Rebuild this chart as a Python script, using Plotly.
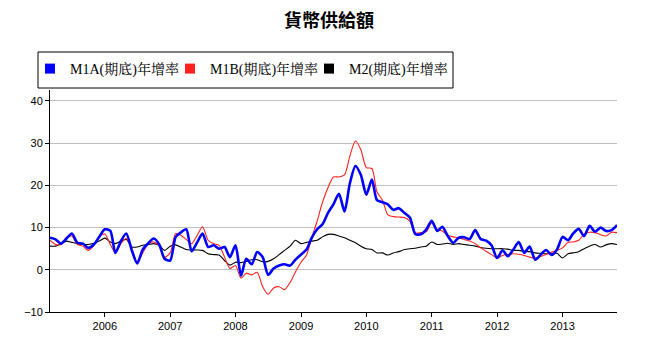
import pandas as pd
import plotly.graph_objects as go

months = pd.date_range("2005-03-01", periods=105, freq="MS")

m1a = [7.6,7.2,6.2,7.4,8.6,6.4,6.2,5.2,6.0,7.8,
       9.6,9.2,4.0,6.8,8.6,4.6,1.5,4.8,6.3,7.4,
       6.0,2.6,2.2,7.8,8.8,9.6,4.4,6.5,8.6,5.4,
       5.8,5.0,5.4,3.0,5.8,-1.4,2.6,1.3,4.2,3.0,
       -1.2,0.3,1.0,1.3,1.0,2.4,3.6,4.8,7.5,9.6,
       10.8,13.5,15.5,18.0,13.8,20.5,24.6,22.5,17.8,21.4,
       16.5,16.0,15.5,14.2,14.6,13.5,12.4,8.5,8.4,9.5,
       11.6,9.2,10.2,8.0,6.4,7.6,7.7,7.3,9.4,7.3,
       6.9,5.8,2.8,4.6,3.2,4.8,6.6,4.0,5.5,2.4,
       3.6,4.7,3.5,4.8,7.8,7.0,8.6,9.7,8.0,10.4,
       9.0,10.0,9.2,9.4,10.6]

m1b = [7.0,6.0,6.0,7.6,8.0,6.0,5.6,4.6,5.8,7.8,
       8.5,6.0,4.0,6.2,7.4,5.0,1.8,4.0,6.2,6.6,
       5.6,3.0,4.0,8.6,8.2,7.2,6.2,8.2,10.2,7.0,
       6.2,5.8,3.0,0.3,1.0,-2.0,-0.8,-1.2,-0.6,-4.0,
       -5.8,-4.3,-4.0,-4.7,-3.0,-0.5,1.8,3.5,7.5,11.5,
       16.0,19.5,22.0,22.0,22.5,27.0,30.5,28.5,24.2,24.0,
       18.5,16.5,13.0,12.6,12.5,12.4,11.5,8.8,8.8,9.0,
       11.1,9.6,9.2,8.2,7.8,7.6,7.2,6.8,6.2,5.2,
       4.4,3.6,2.8,3.4,3.6,3.8,3.7,3.4,3.0,2.8,
       3.2,3.6,4.2,4.6,5.2,6.5,6.6,7.0,8.4,8.9,
       8.8,8.3,8.0,8.9,8.8]

m2 = [5.6,5.6,6.2,6.8,6.5,6.2,6.0,6.0,6.3,6.8,
      7.5,6.6,6.2,6.8,7.2,5.4,5.4,5.8,6.0,6.2,
      5.8,4.6,5.6,5.9,5.4,4.8,4.7,4.7,4.6,3.8,
      3.6,3.5,2.2,1.1,1.8,1.7,2.0,2.4,2.4,1.9,
      2.0,2.6,3.6,4.6,5.6,7.0,6.2,6.5,6.8,7.0,
      7.8,8.4,8.4,8.0,7.6,7.0,6.4,5.6,5.0,4.8,
      4.0,4.0,3.5,4.0,4.3,4.8,5.0,5.1,5.4,5.6,
      6.6,6.0,6.1,6.3,6.0,6.2,6.0,5.8,5.6,5.3,
      5.1,5.0,5.0,5.0,4.9,4.6,4.6,4.4,4.3,4.0,
      3.9,3.8,3.9,3.9,2.8,3.8,4.0,4.3,5.0,5.6,
      6.0,5.4,5.9,6.2,6.0]

names = ["M1A(期底)年增率", "M1B(期底)年增率", "M2(期底)年增率"]
colors = ["#0000ff", "#ff2020", "#000000"]
widths = [2.6, 1.1, 1.1]
series = [m1a, m1b, m2]
legend_ids = ["legend", "legend2", "legend3"]

fig = go.Figure()
# draw order: black, red, blue on top
for idx in [2, 1, 0]:
    fig.add_trace(go.Scatter(
        x=months, y=series[idx], mode="lines", name=names[idx],
        line=dict(color=colors[idx], width=widths[idx], shape="spline", smoothing=0.7),
        showlegend=False))
for idx in [0, 1, 2]:
    fig.add_trace(go.Scatter(
        x=[None], y=[None], mode="markers", name=names[idx],
        legend=legend_ids[idx],
        marker=dict(symbol="square", size=10, color=colors[idx],
                    line=dict(width=0))))

# plot area geometry (px) used to convert legend box placement to paper coords
L, R, T, B = 50, 617, 90, 312
W, H = R - L, B - T
def px_x(p):
    return (p - L) / W
def px_y(p):
    return (B - p) / H

leg_font = dict(family="Liberation Serif, Noto Serif CJK TC, Noto Sans CJK TC",
                size=14, color="black")
leg_common = dict(orientation="h", yanchor="top", xanchor="left", y=px_y(53),
                  borderwidth=0, bgcolor="rgba(0,0,0,0)", font=leg_font, itemwidth=30)

fig.update_layout(
    width=645, height=348,
    margin=dict(l=L, r=645 - R, t=T, b=348 - B, pad=0),
    paper_bgcolor="white", plot_bgcolor="white",
    title=dict(text="<b>貨幣供給額</b>", x=0.51, xref="container", y=0.94,
               yref="container", xanchor="center", yanchor="middle",
               font=dict(family="Noto Sans CJK TC", size=18, color="black")),
    legend=dict(x=px_x(30), **leg_common),
    legend2=dict(x=px_x(170), **leg_common),
    legend3=dict(x=px_x(309), **leg_common),
    shapes=[dict(type="rect", xref="paper", yref="paper",
                 x0=px_x(38), x1=px_x(453), y0=px_y(88), y1=px_y(52),
                 line=dict(color="black", width=1), fillcolor="rgba(0,0,0,0)",
                 layer="above")],
    font=dict(family="Liberation Sans, Arial", size=11, color="black"),
)
fig.update_xaxes(
    type="date", range=["2005-03-01", "2013-11-01"],
    tick0="2006-01-01", dtick="M12", tickformat="%Y",
    showgrid=False, showline=True, linecolor="black", linewidth=1,
    ticks="outside", ticklen=4, tickcolor="black",
    tickfont=dict(size=11, color="black"))
fig.update_yaxes(
    range=[-10, 42.6], dtick=10, tick0=0,
    showgrid=True, gridcolor="#c0c0c0", gridwidth=1, zeroline=False,
    showline=True, linecolor="black", linewidth=1,
    ticks="outside", ticklen=4, tickcolor="black",
    tickfont=dict(size=11, color="black"))

fig.write_html("out.html")
